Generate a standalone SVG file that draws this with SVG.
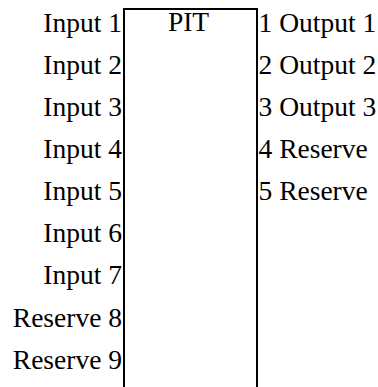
<svg xmlns="http://www.w3.org/2000/svg" width="378" height="387" viewBox="0 0 378 387">
<style>
text{font-family:"Liberation Serif","Times New Roman",serif;font-size:27.5px;fill:#000}
.l{text-anchor:end}
.m{text-anchor:middle}
</style>
<rect width="378" height="387" fill="#fff"/>
<g id="pit">
<rect x="124" y="9" width="133" height="400" fill="none" stroke="#000" stroke-width="2"/>
<text class="m" x="188.5" y="31">PIT</text>
</g>
<g id="inputs">
<text class="l" x="122" y="32">Input 1</text>
<text class="l" x="122" y="74">Input 2</text>
<text class="l" x="122" y="116">Input 3</text>
<text class="l" x="122" y="158">Input 4</text>
<text class="l" x="122" y="200">Input 5</text>
<text class="l" x="122" y="242">Input 6</text>
<text class="l" x="122" y="284">Input 7</text>
<text class="l" x="122" y="326.5">Reserve 8</text>
<text class="l" x="122" y="368.5">Reserve 9</text>
</g>
<g id="outputs">
<text x="258.5" y="32">1 Output 1</text>
<text x="258.5" y="74">2 Output 2</text>
<text x="258.5" y="116">3 Output 3</text>
<text x="258.5" y="158">4 Reserve</text>
<text x="258.5" y="200">5 Reserve</text>
</g>
<g id="connectors"></g>
</svg>
